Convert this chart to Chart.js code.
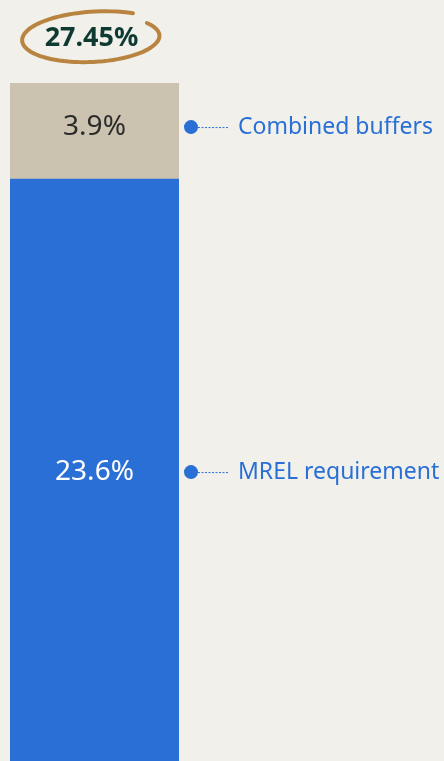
<!DOCTYPE html>
<html>
<head>
<meta charset="utf-8">
<script src="https://cdn.jsdelivr.net/npm/chart.js@4"></script>
<style>
  html, body { margin: 0; padding: 0; background: #f1f0eb; }
  #wrap { width: 444px; height: 761px; position: relative; }
</style>
</head>
<body>
<div id="wrap"><canvas id="myChart"></canvas></div>
<script>
// Chart data
const categories = ['MREL'];
const seriesNames = ['MREL requirement', 'Combined buffers'];
const mrelValues = [23.6];
const bufferValues = [3.9];
const totalLabel = '27.45%';

const seriesColors = ['#2a6fd6', '#cbc3b0'];
const valueColors = ['#ffffff', '#2b2b2b'];

// Draws the value labels, the side annotations and the circled total
const labelPlugin = {
  id: 'labels',
  afterDatasetsDraw(chart) {
    const ctx = chart.ctx;
    ctx.save();
    chart.data.datasets.forEach((ds, i) => {
      const bar = chart.getDatasetMeta(i).data[0];
      const cy = (bar.y + bar.base) / 2 + (i === 1 ? -4 : 2);
      // value inside the bar
      ctx.fillStyle = valueColors[i];
      ctx.font = '28px "Noto Sans"';
      ctx.textAlign = 'center';
      ctx.textBaseline = 'middle';
      ctx.fillText(ds.data[0].toFixed(1) + '%', bar.x, cy);
      // annotation: dot, dotted line, label
      const right = bar.x + bar.width / 2;
      ctx.fillStyle = '#2a6fd6';
      ctx.beginPath();
      ctx.arc(right + 12, cy, 7, 0, Math.PI * 2);
      ctx.fill();
      ctx.strokeStyle = '#2a6fd6';
      ctx.lineWidth = 1;
      ctx.setLineDash([2, 1.5]);
      ctx.beginPath();
      ctx.moveTo(right + 19, cy + 0.5);
      ctx.lineTo(right + 49, cy + 0.5);
      ctx.stroke();
      ctx.setLineDash([]);
      ctx.textAlign = 'left';
      ctx.font = '23px "Noto Sans"';
      ctx.fillText(ds.label, right + 59, cy);
    });

    // total above the bar with a hand-drawn oval
    const top = chart.getDatasetMeta(1).data[0];
    const tx = top.x - 3;
    const ty = top.y - 45;
    ctx.fillStyle = '#0e3a32';
    ctx.font = 'bold 27px "Noto Sans"';
    ctx.textAlign = 'center';
    ctx.textBaseline = 'middle';
    ctx.fillText(totalLabel, tx, ty);

    ctx.strokeStyle = '#b8843f';
    ctx.lineWidth = 4;
    ctx.lineCap = 'round';
    ctx.beginPath();
    const start = -0.6;
    const sweep = Math.PI * 2 - 0.45;
    const steps = 80;
    for (let s = 0; s <= steps; s++) {
      const t = s / steps;
      const a = start + sweep * t;
      const k = 0.92 + 0.2 * t;
      const px = tx + 3 + Math.cos(a) * 69 * k;
      const py = ty + Math.sin(a) * 24 * k - Math.cos(a) * 3;
      if (s === 0) ctx.moveTo(px, py); else ctx.lineTo(px, py);
    }
    ctx.stroke();
    ctx.restore();
  }
};

const ctx = document.getElementById('myChart').getContext('2d');

const chart = new Chart(ctx, {
  type: 'bar',
  data: {
    labels: categories,
    datasets: [
      { label: seriesNames[0], data: mrelValues, backgroundColor: seriesColors[0] },
      { label: seriesNames[1], data: bufferValues, backgroundColor: seriesColors[1] }
    ]
  },
  options: {
    responsive: true,
    maintainAspectRatio: false,
    animation: false,
    layout: { padding: { top: 83, left: 10, right: 265, bottom: 0 } },
    datasets: { bar: { barPercentage: 1, categoryPercentage: 1, borderWidth: 0 } },
    plugins: { legend: { display: false }, tooltip: { enabled: false } },
    scales: {
      x: { stacked: true, display: false },
      y: { stacked: true, display: false, min: 0, max: mrelValues[0] + bufferValues[0] }
    }
  },
  plugins: [labelPlugin]
});
</script>
</body>
</html>
